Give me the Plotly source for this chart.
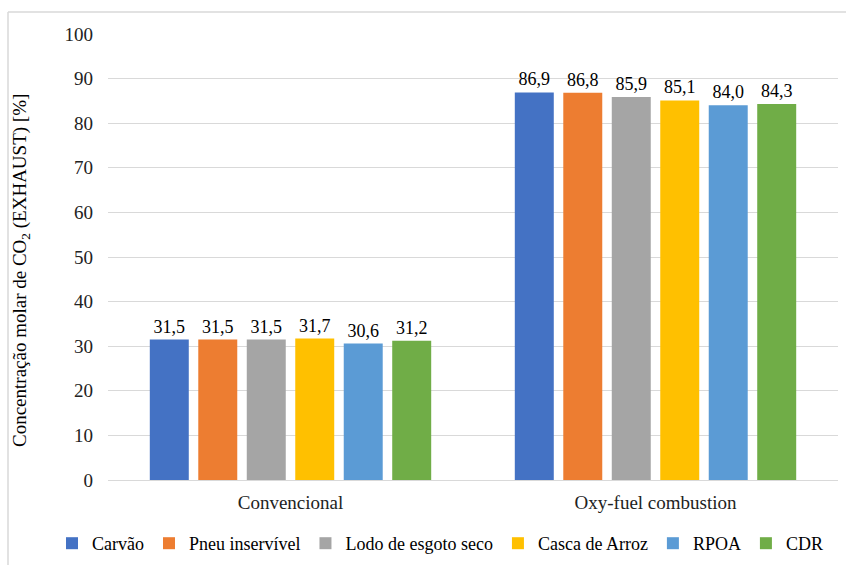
import plotly.graph_objects as go

# Combustion modes on the category axis
categories = ["Convencional", "Oxy-fuel combustion"]

# Fuel series and their CO2 molar fraction in the exhaust [%]
series_names = ["Carvão", "Pneu inservível", "Lodo de esgoto seco",
                "Casca de Arroz", "RPOA", "CDR"]
carvao = [31.5, 86.9]
pneu = [31.5, 86.8]
lodo = [31.5, 85.9]
casca = [31.7, 85.1]
rpoa = [30.6, 84.0]
cdr = [31.2, 84.3]
series_values = [carvao, pneu, lodo, casca, rpoa, cdr]

colors = ["#4472C4", "#ED7D31", "#A5A5A5", "#FFC000", "#5B9BD5", "#70AD47"]
FONT = "Liberation Serif"
GRID = "#d9d9d9"

fig = go.Figure()
for name, vals, col in zip(series_names, series_values, colors):
    fig.add_trace(go.Bar(
        name=name, x=categories, y=vals, marker=dict(color=col, line=dict(width=0)),
        texttemplate="%{y:.1f}", textposition="outside", constraintext="none",
        textfont=dict(family=FONT, size=18, color="#000000"),
        cliponaxis=False, hoverinfo="skip",
    ))

W, H = 846, 565
ml, mr, mt, mb = 108, 8, 34, 85
pw, ph = W - ml - mr, H - mt - mb

def px_x(x):
    return (x - ml) / pw

def px_y(y):
    return (H - mb - y) / ph

# light frame around the chart (top and left edges)
shapes = [
    dict(type="line", xref="paper", yref="paper", x0=px_x(8), x1=px_x(W + 5),
         y0=px_y(12), y1=px_y(12), line=dict(color=GRID, width=1.5)),
    dict(type="line", xref="paper", yref="paper", x0=px_x(8), x1=px_x(8),
         y0=px_y(12), y1=px_y(H + 5), line=dict(color=GRID, width=1.5)),
]

# vertical axis title
annotations = [
    dict(text="Concentração molar de CO<sub>2</sub> (EXHAUST) [%]",
         xref="paper", yref="paper", x=px_x(21), y=px_y(271),
         xanchor="center", yanchor="middle", textangle=-90, showarrow=False,
         font=dict(family=FONT, size=19, color="#000000")),
]

fig.update_layout(
    width=W, height=H, barmode="group", bargap=0.203, bargroupgap=0.196,
    separators=",.",
    margin=dict(l=ml, r=mr, t=mt, b=mb, pad=0, autoexpand=False),
    paper_bgcolor="white", plot_bgcolor="white",
    font=dict(family=FONT, size=18, color="#000000"),
    shapes=shapes, annotations=annotations,
    legend=dict(orientation="h", xref="paper", yref="paper",
                x=px_x(52), xanchor="left", y=px_y(525), yanchor="top",
                font=dict(family=FONT, size=18, color="#000000"),
                itemwidth=30, tracegroupgap=0, borderwidth=0),
    xaxis=dict(showgrid=False, showline=False, ticks="", ticklabelstandoff=9,
               tickfont=dict(family=FONT, size=19, color="#222222")),
    yaxis=dict(range=[0, 100], dtick=10, showgrid=True, gridcolor=GRID, gridwidth=1,
               zeroline=True, zerolinecolor=GRID, zerolinewidth=1, showline=False,
               ticks="", ticklabelstandoff=14,
               tickfont=dict(family=FONT, size=19, color="#222222")),
)

fig.write_html("out.html")
